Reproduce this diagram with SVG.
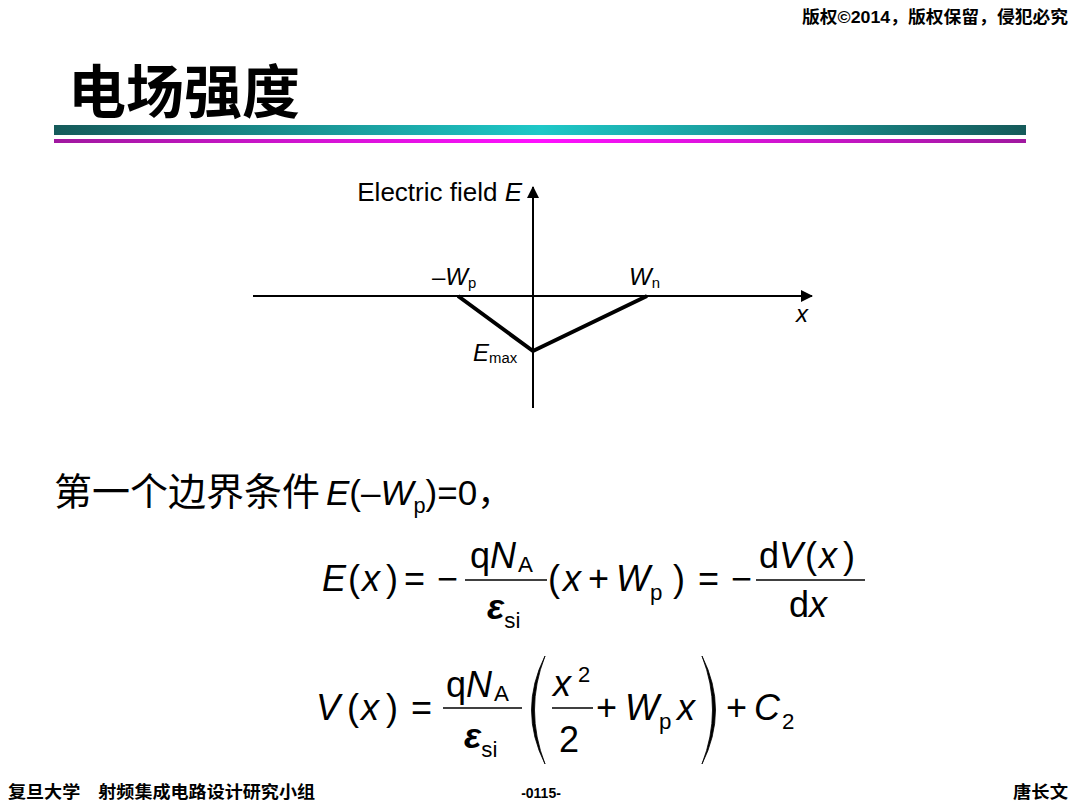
<svg xmlns="http://www.w3.org/2000/svg" width="1080" height="810" viewBox="0 0 1080 810">
<defs>
<linearGradient id="teal" x1="0" y1="0" x2="1" y2="0">
<stop offset="0" stop-color="#155a5a"/><stop offset="0.5" stop-color="#1ec8c8"/><stop offset="1" stop-color="#155a5a"/>
</linearGradient>
<linearGradient id="mag" x1="0" y1="0" x2="1" y2="0">
<stop offset="0" stop-color="#a0189f"/><stop offset="0.5" stop-color="#ff10ff"/><stop offset="1" stop-color="#a0189f"/>
</linearGradient>
<marker id="arr" viewBox="0 0 12 12" refX="11" refY="6" markerWidth="12" markerHeight="12" markerUnits="userSpaceOnUse" orient="auto">
<path d="M0,0 L12,6 L0,12 z" fill="#000"/>
</marker>
<style>
.hdr{font-family:"Liberation Sans","Noto Sans CJK SC",sans-serif;font-weight:bold;font-size:17px;fill:#000}
.ttl{font-family:"Noto Sans CJK SC",sans-serif;font-weight:bold;font-size:58px;fill:#000}
.lbl{font-family:"Liberation Sans",Arial,sans-serif;font-size:24px;fill:#000}
.eq{font-family:"Liberation Sans",Arial,sans-serif;font-size:36px;fill:#000}
.cjk{font-family:"Noto Sans CJK SC",sans-serif;font-size:38px;fill:#000}
.it{font-style:italic}
.sub{font-size:0.62em}
.axis{stroke:#000;stroke-width:2;fill:none}
.fld{stroke:#000;stroke-width:4;fill:none;stroke-linejoin:miter}
.frac{stroke:#000;stroke-width:1.5}
</style>
</defs>
<rect width="1080" height="810" fill="#fff"/>

<g id="header">
<text class="hdr" x="1068" y="23" text-anchor="end" textLength="266" lengthAdjust="spacingAndGlyphs">版权©2014，版权保留，侵犯必究</text>
</g>
<g id="title">
<text class="ttl" x="68" y="113">电场强度</text>
<rect x="54" y="125" width="972" height="10" fill="url(#teal)"/>
<rect x="54" y="139" width="972" height="4" fill="url(#mag)"/>
</g>

<g id="connectors">
<line class="axis" x1="253" y1="296" x2="812" y2="296" marker-end="url(#arr)"/>
<line class="axis" x1="533" y1="408" x2="533" y2="187" marker-end="url(#arr)"/>
<polyline class="fld" points="458,296 533,351 647,296"/>
</g>

<g id="graph-labels">
<text class="lbl" x="522" y="201" text-anchor="end" style="font-size:26px">Electric field <tspan class="it">E</tspan></text>
<text class="lbl" x="432" y="285">–<tspan class="it">W</tspan><tspan class="sub" dy="3">p</tspan></text>
<text class="lbl" x="629" y="285"><tspan class="it">W</tspan><tspan class="sub" dy="3">n</tspan></text>
<text class="lbl it" x="796" y="322">x</text>
<text class="lbl" x="473" y="361"><tspan class="it">E</tspan><tspan class="sub" dy="2">max</tspan></text>
</g>

<g id="condition">
<text class="cjk" x="54" y="505">第一个边界条件</text>
<text class="eq" x="326" y="505" style="font-size:35px"><tspan class="it">E</tspan>(–<tspan class="it">W</tspan><tspan class="sub" dy="8">p</tspan><tspan dy="-8">)=0</tspan><tspan style="font-family:'Noto Sans CJK SC',sans-serif">，</tspan></text>
</g>

<g id="equation1">
<text class="eq" x="322" y="591"><tspan class="it">E</tspan><tspan x="348">(</tspan><tspan class="it" x="362">x</tspan><tspan x="386">)</tspan><tspan x="404">=</tspan><tspan x="437">−</tspan></text>
<text class="eq" x="470" y="568">q<tspan class="it">N</tspan><tspan class="sub" dy="4" dx="2">A</tspan></text>
<line class="frac" x1="465" y1="580" x2="547" y2="580"/>
<text class="eq" x="487" y="619"><tspan class="it" style="font-weight:bold">ε</tspan><tspan class="sub" dy="9">si</tspan></text>
<text class="eq" x="548" y="591">(<tspan class="it" x="563">x</tspan><tspan x="588">+</tspan><tspan class="it" x="616">W</tspan><tspan class="sub" x="650" dy="9">p</tspan><tspan x="673" dy="-9">)</tspan><tspan x="698">=</tspan><tspan x="731">−</tspan></text>
<text class="eq" x="759" y="568">d<tspan class="it">V</tspan><tspan x="805">(</tspan><tspan class="it" x="819">x</tspan><tspan x="843">)</tspan></text>
<line class="frac" x1="756" y1="580" x2="865" y2="580"/>
<text class="eq" x="789" y="617">d<tspan class="it">x</tspan></text>
</g>

<g id="equation2">
<text class="eq" x="316" y="720"><tspan class="it">V</tspan><tspan x="347">(</tspan><tspan class="it" x="361">x</tspan><tspan x="386">)</tspan><tspan x="411">=</tspan></text>
<text class="eq" x="446" y="697">q<tspan class="it">N</tspan><tspan class="sub" dy="4" dx="2">A</tspan></text>
<line class="frac" x1="443" y1="708" x2="522" y2="708"/>
<text class="eq" x="464" y="748"><tspan class="it" style="font-weight:bold">ε</tspan><tspan class="sub" dy="9">si</tspan></text>
<path d="M545,656 Q518,710 545,764 Q524,710 545,656 z" fill="#000" stroke="#000" stroke-width="0.8"/>
<text class="eq it" x="553" y="696">x</text>
<text class="eq" x="578" y="682" style="font-size:22px">2</text>
<line class="frac" x1="552" y1="708" x2="593" y2="708"/>
<text class="eq" x="559" y="752">2</text>
<text class="eq" x="596" y="720">+<tspan class="it" x="625">W</tspan><tspan class="sub" x="659" dy="9">p</tspan><tspan class="it" x="677" dy="-9">x</tspan></text>
<path d="M702,656 Q729,710 702,764 Q723,710 702,656 z" fill="#000" stroke="#000" stroke-width="0.8"/>
<text class="eq" x="726" y="720">+<tspan class="it" x="754">C</tspan><tspan class="sub" x="782" dy="9">2</tspan></text>
</g>

<g id="footer">
<text class="hdr" x="8" y="798" textLength="307" lengthAdjust="spacingAndGlyphs">复旦大学　射频集成电路设计研究小组</text>
<text class="hdr" x="541" y="798" text-anchor="middle" style="font-size:14px">-0115-</text>
<text class="hdr" x="1068" y="798" text-anchor="end" textLength="55" lengthAdjust="spacingAndGlyphs">唐长文</text>
</g>
</svg>
